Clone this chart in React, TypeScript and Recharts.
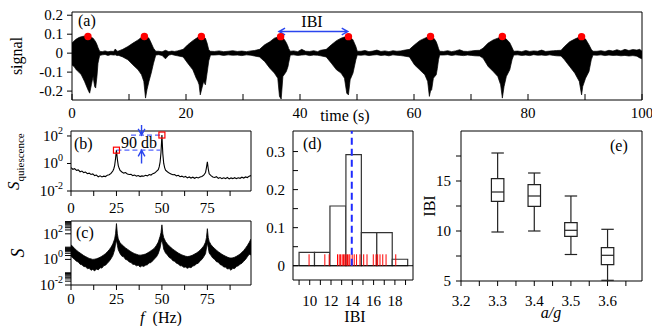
import React from "react";
import {
  Area,
  ComposedChart,
  Line,
  ReferenceArea,
  ReferenceLine,
  Scatter,
  XAxis,
  YAxis,
} from "recharts";

const FONT = "'Liberation Serif', 'Times New Roman', serif";
const INK = "#000";
const RED = "#ff0000";
const BLUE = "#2a45ee";
const LIGHT_BLUE = "#5566ff";

// ---- (a) signal envelope ----
const sigT = [
  0, 0.4, 0.75, 1.2, 1.63, 2.2, 2.8, 3.1, 3.4, 3.7, 3.97, 4.15, 4.38, 4.56, 4.85,
  5.3, 5.8, 6.3, 6.8, 7.3, 7.6, 7.9, 8.2,
  8.9, 9.8, 10.7, 11.6, 12.2, 12.6, 12.9, 13.15, 13.5, 13.9, 14.3, 14.7,
  15.2, 15.8, 16.4, 17.0, 17.5, 18.0, 18.5,
  19.5, 20.3, 21.2, 21.8, 22.1, 22.3, 22.5, 22.8, 23.1, 23.4, 23.7, 24.0, 24.3,
  25, 25.8, 26.6, 27.4, 28.2, 29, 29.8, 30.6, 31.4, 32,
  32.9, 33.8, 34.7, 35.5, 36.1, 36.4, 36.7, 37.0, 37.3, 37.6, 37.9, 38.0, 38.3,
  38.9, 39.6, 40.3, 41, 41.7, 42.4, 43.1, 43.6,
  44.6, 45.5, 46.4, 47.2, 47.8, 48.2, 48.5, 48.8, 49.3, 49.8, 50.05,
  50.7, 51.4, 52.1, 52.8, 53.5, 54.2, 54.9, 55.6, 56.3, 57, 57.7, 58.2,
  59.2, 60.1, 61.0, 61.9, 62.4, 62.7, 62.9, 63.1, 63.4, 63.6, 63.9, 64.1, 64.3, 64.5,
  65.2, 65.9, 66.6, 67.3, 68, 68.7, 69.4, 70.1, 70.7,
  71.5, 72.1, 73.0, 73.9, 74.7, 75.2, 75.5, 75.8, 76.2, 76.8, 77.2, 77.5,
  78.2, 78.9, 79.6, 80.3, 81, 81.7, 82.4, 83.1, 83.8, 84.5, 85,
  85.8, 86.4, 87.3, 88.2, 89.0, 89.4, 89.6, 90.1, 90.7, 91.1, 91.4,
  92.1, 92.8, 93.5, 94.2, 94.9, 95.6, 96.3, 97, 97.7, 98.4, 99.1, 99.6, 100,
];
const sigHi = [
  0.053, 0.066, 0.074, 0.082, 0.087, 0.09, 0.092, 0.088, 0.083, 0.079, 0.068, 0.06, 0.045, 0.03, 0.01,
  0.008, 0.012, 0.007, 0.01, 0.009, 0.022, 0.01, 0.012,
  0.02, 0.035, 0.053, 0.07, 0.084, 0.09, 0.09, 0.085, 0.079, 0.053, 0.026, 0.01,
  0.01, 0.007, 0.015, 0.008, 0.011, 0.009, 0.012,
  0.02, 0.044, 0.066, 0.078, 0.084, 0.088, 0.09, 0.09, 0.085, 0.079, 0.053, 0.017, 0.01,
  0.009, 0.012, 0.008, 0.01, 0.013, 0.009, 0.011, 0.008, 0.012, 0.014,
  0.02, 0.044, 0.06, 0.079, 0.085, 0.088, 0.09, 0.082, 0.07, 0.055, 0.035, 0.025, 0.01,
  0.012, 0.008, 0.02, 0.01, 0.009, 0.013, 0.008, 0.015,
  0.02, 0.044, 0.066, 0.079, 0.085, 0.088, 0.09, 0.085, 0.07, 0.035, 0.01,
  0.01, 0.014, 0.008, 0.011, 0.016, 0.009, 0.012, 0.008, 0.013, 0.01, 0.012, 0.015,
  0.02, 0.044, 0.066, 0.079, 0.085, 0.088, 0.09, 0.088, 0.08, 0.074, 0.06, 0.044, 0.025, 0.01,
  0.009, 0.013, 0.008, 0.012, 0.018, 0.01, 0.009, 0.012, 0.014,
  0.015, 0.026, 0.053, 0.07, 0.079, 0.086, 0.09, 0.085, 0.074, 0.055, 0.03, 0.01,
  0.011, 0.008, 0.014, 0.009, 0.012, 0.01, 0.016, 0.009, 0.011, 0.013, 0.014,
  0.015, 0.035, 0.06, 0.074, 0.085, 0.09, 0.088, 0.074, 0.044, 0.02, 0.01,
  0.01, 0.013, 0.009, 0.015, 0.011, 0.018, 0.012, 0.02, 0.014, 0.019, 0.016, 0.02, 0.01,
];
const sigLo = [
  -0.062, -0.072, -0.088, -0.1, -0.114, -0.149, -0.193, -0.211, -0.167, -0.123, -0.176, -0.184, -0.123, -0.053, -0.012,
  -0.009, -0.007, -0.012, -0.008, -0.01, -0.009, -0.013, -0.012,
  -0.02, -0.035, -0.062, -0.088, -0.114, -0.149, -0.237, -0.193, -0.149, -0.105, -0.053, -0.01,
  -0.008, -0.012, -0.03, -0.01, -0.007, -0.011, -0.014,
  -0.02, -0.053, -0.088, -0.132, -0.15, -0.167, -0.22, -0.184, -0.149, -0.167, -0.105, -0.04, -0.01,
  -0.01, -0.008, -0.012, -0.009, -0.011, -0.01, -0.013, -0.009, -0.011, -0.015,
  -0.02, -0.044, -0.079, -0.105, -0.132, -0.228, -0.242, -0.123, -0.11, -0.097, -0.07, -0.053, -0.01,
  -0.009, -0.012, -0.01, -0.008, -0.013, -0.01, -0.011, -0.014,
  -0.02, -0.053, -0.088, -0.105, -0.132, -0.211, -0.22, -0.14, -0.105, -0.035, -0.01,
  -0.011, -0.009, -0.013, -0.01, -0.008, -0.012, -0.01, -0.014, -0.009, -0.011, -0.013, -0.015,
  -0.02, -0.062, -0.088, -0.114, -0.149, -0.228, -0.2, -0.193, -0.132, -0.125, -0.114, -0.08, -0.035, -0.01,
  -0.01, -0.008, -0.012, -0.009, -0.011, -0.013, -0.01, -0.012, -0.014,
  -0.015, -0.026, -0.07, -0.097, -0.123, -0.167, -0.237, -0.176, -0.123, -0.088, -0.035, -0.01,
  -0.009, -0.012, -0.01, -0.013, -0.008, -0.011, -0.01, -0.012, -0.009, -0.012, -0.014,
  -0.015, -0.035, -0.07, -0.105, -0.149, -0.22, -0.176, -0.132, -0.097, -0.035, -0.01,
  -0.011, -0.009, -0.013, -0.01, -0.012, -0.011, -0.014, -0.012, -0.015, -0.013, -0.016, -0.025, -0.03,
];
const peakT = [2.8, 12.7, 22.7, 36.6, 48.5, 62.9, 75.5, 89.4];
const peakV = [0.088, 0.088, 0.088, 0.087, 0.087, 0.088, 0.088, 0.087];
const ibiSpan = [36.3, 48.4];
const ibiLevel = 0.114;

// ---- (b) quiescence spectrum: [f, log10 S] ----
const bSpectrum = [
  [0, -0.3], [1, -0.42], [2, -0.38], [3, -0.5], [4, -0.47], [5, -0.6], [6, -0.55], [7, -0.66],
  [8, -0.62], [9, -0.74], [10, -0.7], [11, -0.8], [12, -0.76], [13, -0.88], [14, -0.84], [15, -0.97],
  [16, -0.9], [17, -0.98], [18, -0.92], [19, -0.95], [20, -0.85], [21, -0.82], [22, -0.72], [23, -0.55],
  [23.5, -0.4], [24, -0.15], [24.5, 0.35], [25, 0.97], [25.5, 0.3], [26, -0.15], [26.5, -0.35], [27, -0.5],
  [28, -0.62], [29, -0.7], [30, -0.66], [31, -0.76], [32, -0.8], [33, -0.78], [34, -0.88], [35, -0.84],
  [36, -0.92], [37, -0.88], [38, -0.95], [39, -0.9], [40, -0.93], [41, -0.86], [42, -0.9], [43, -0.8],
  [44, -0.84], [45, -0.74], [46, -0.7], [47, -0.58], [48, -0.45], [48.5, -0.25], [49, 0.1], [49.5, 0.8],
  [50, 2.07], [50.5, 0.7], [51, 0.0], [51.5, -0.3], [52, -0.48], [53, -0.6], [54, -0.7], [55, -0.76],
  [56, -0.82], [57, -0.8], [58, -0.9], [59, -0.86], [60, -0.96], [61, -0.92], [62, -1.0], [63, -0.94],
  [64, -1.05], [65, -0.98], [66, -1.06], [67, -1.0], [68, -1.08], [69, -1.0], [70, -1.05], [71, -0.98],
  [72, -0.95], [73, -0.85], [74, -0.65], [74.5, -0.3], [75, 0.12], [75.5, -0.4], [76, -0.75], [77, -0.88],
  [78, -0.98], [79, -1.02], [80, -0.96], [81, -1.08], [82, -1.02], [83, -1.1], [84, -1.04], [85, -1.1],
  [86, -1.02], [87, -1.12], [88, -1.05], [89, -1.1], [90, -1.03], [91, -1.1], [92, -1.04], [93, -1.08],
  [94, -1.0], [95, -1.06], [96, -0.98], [97, -1.02], [98, -0.92], [99, -0.88],
];
const markF = [25, 50];
const markS = [9.3, 117];
const dashLow = [25, 49];
const dashHigh = [33, 49];
const dbArrowF = 38.8;
const dbArrowTail = [630, 1.0];

// ---- (c) full spectrum band: [f, log10 upper, log10 lower] ----
const cSpectrum = [
  [0, 1.15, 0.25], [1, 1.0, 0.1], [2, 0.85, 0.0], [3, 0.72, -0.15], [4, 0.6, -0.2], [5, 0.5, -0.38],
  [6, 0.4, -0.42], [7, 0.3, -0.55], [8, 0.22, -0.58], [9, 0.15, -0.72], [10, 0.08, -0.7], [11, 0.04, -0.85],
  [12, 0.0, -0.78], [13, 0.02, -0.9], [14, 0.05, -0.75], [15, 0.1, -0.82], [16, 0.17, -0.65], [17, 0.25, -0.68],
  [18, 0.35, -0.5], [19, 0.45, -0.45], [20, 0.6, -0.3], [21, 0.75, -0.15], [22, 0.95, 0.05], [23, 1.2, 0.3],
  [24, 1.6, 0.75], [24.5, 2.0, 1.2], [25, 2.8, 1.5], [25.5, 2.0, 1.1], [26, 1.6, 0.75], [27, 1.3, 0.45],
  [28, 1.15, 0.25], [29, 1.02, 0.2], [30, 0.9, 0.0], [31, 0.8, -0.05], [32, 0.7, -0.2], [33, 0.6, -0.25],
  [34, 0.52, -0.38], [35, 0.45, -0.4], [36, 0.4, -0.5], [37, 0.35, -0.45], [38, 0.33, -0.6], [39, 0.35, -0.5],
  [40, 0.38, -0.55], [41, 0.42, -0.45], [42, 0.5, -0.42], [43, 0.58, -0.28], [44, 0.68, -0.25], [45, 0.78, -0.1],
  [46, 0.9, 0.05], [47, 1.1, 0.2], [48, 1.35, 0.45], [49, 1.8, 0.9], [49.5, 2.1, 1.3], [50, 2.7, 1.5],
  [50.5, 2.0, 1.2], [51, 1.7, 0.8], [52, 1.4, 0.5], [53, 1.2, 0.35], [54, 1.05, 0.15], [55, 0.92, 0.08],
  [56, 0.8, -0.1], [57, 0.7, -0.15], [58, 0.6, -0.3], [59, 0.5, -0.35], [60, 0.42, -0.5], [61, 0.35, -0.5],
  [62, 0.3, -0.62], [63, 0.25, -0.6], [64, 0.22, -0.7], [65, 0.24, -0.62], [66, 0.28, -0.65], [67, 0.34, -0.52],
  [68, 0.42, -0.48], [69, 0.5, -0.35], [70, 0.6, -0.3], [71, 0.72, -0.12], [72, 0.88, 0.0], [73, 1.05, 0.2],
  [74, 1.35, 0.45], [74.5, 1.7, 0.9], [75, 2.4, 1.3], [75.5, 1.7, 0.9], [76, 1.4, 0.5], [77, 1.15, 0.3],
  [78, 0.98, 0.1], [79, 0.85, 0.0], [80, 0.72, -0.18], [81, 0.6, -0.22], [82, 0.5, -0.4], [83, 0.4, -0.45],
  [84, 0.32, -0.6], [85, 0.25, -0.6], [86, 0.18, -0.75], [87, 0.12, -0.72], [88, 0.1, -0.85], [89, 0.12, -0.7],
  [90, 0.17, -0.72], [91, 0.24, -0.55], [92, 0.33, -0.5], [93, 0.42, -0.38], [94, 0.55, -0.3], [95, 0.7, -0.15],
  [96, 0.88, 0.0], [97, 1.08, 0.2], [98, 1.32, 0.4], [99, 1.6, 0.35],
];

// ---- (d) IBI histogram ----
const histEdges = [9.0, 10.45, 11.9, 13.4, 14.85, 16.3, 17.75, 19.2];
const histDensity = [0.035, 0.035, 0.157, 0.292, 0.087, 0.087, 0.017];
const rugIBI = [
  9.94, 11.42, 11.83, 12.61, 12.77, 12.9, 13.05, 13.18, 13.3, 13.42, 13.55, 13.68, 13.77,
  13.99, 14.18, 14.4, 14.72, 15.07, 15.38, 15.97, 16.23, 16.38, 16.6, 16.86, 17.17, 18.08,
];
const rugHeight = 0.03;
const meanIBI = 13.95;

// ---- (e) IBI vs a/g box plots ----
const agRatio = [3.3, 3.4, 3.5, 3.6];
const whiskLo = [9.9, 10.0, 7.65, 5.07];
const q1 = [12.97, 12.47, 9.47, 6.64];
const med = [13.9, 13.5, 10.07, 7.57];
const q3 = [15.24, 14.64, 10.84, 8.34];
const whiskHi = [17.8, 15.8, 13.5, 10.17];
const BOX_HALF = 0.017;

// ---- ticks ----
const aTicksX = [0, 10, 20, 30, 40, 50, 60, 70, 80, 90, 100];
const aTicksY = [-0.2, -0.1, 0, 0.1, 0.2];
const fTicks = [0, 12.5, 25, 37.5, 50, 62.5, 75, 87.5];
const bTicksY = [0.01, 1, 100];
const cTicksY = [
  0.01, 0.02, 0.03, 0.04, 0.05, 0.06, 0.07, 0.08, 0.09,
  1, 2, 3, 4, 5, 6, 7, 8, 9,
  100, 200, 300, 400, 500, 600, 700, 800, 900,
];
const dTicksX = [9, 10, 11, 12, 13, 14, 15, 16, 17, 18, 19];
const dTicksY = [0, 0.05, 0.1, 0.15, 0.2, 0.25, 0.3];
const eTicksX = [3.2, 3.25, 3.3, 3.35, 3.4, 3.45, 3.5, 3.55, 3.6, 3.65];
const eTicksY = [5, 7.5, 10, 12.5, 15, 17.5];

// plot boxes in page pixels
const BOX_A = { x0: 72, y0: 12, x1: 642, y1: 100 };
const BOX_B = { x0: 71, y0: 131, x1: 251, y1: 191 };
const BOX_C = { x0: 71, y0: 221, x1: 251, y1: 285 };
const BOX_D = { x0: 293, y0: 131, x1: 413, y1: 280 };
const BOX_E = { x0: 461, y0: 131, x1: 642, y1: 281 };

const PAD = 12;
const YW = 60;
const XH = 30;

function frame(b: { x0: number; y0: number; x1: number; y1: number }) {
  return {
    style: { position: "absolute" as const, left: b.x0 - YW - PAD, top: b.y0 - PAD },
    width: b.x1 - b.x0 + YW + 2 * PAD,
    height: b.y1 - b.y0 + XH + 2 * PAD,
    margin: { top: PAD, right: PAD, bottom: PAD, left: PAD },
  };
}

function textTick(opts: {
  dx?: number;
  dy?: number;
  anchor: "start" | "middle" | "end";
  label: (v: number) => string | null;
}) {
  return (props: any) => {
    const { x, y, payload } = props;
    const s = opts.label(payload.value);
    if (s == null) return <g />;
    return (
      <text
        x={x + (opts.dx ?? 0)}
        y={y + (opts.dy ?? 0)}
        textAnchor={opts.anchor}
        fontFamily={FONT}
        fontSize={15}
        fill={INK}
      >
        {s}
      </text>
    );
  };
}

function LogTick(props: any) {
  const { x, y, payload } = props;
  const lg = Math.log10(payload.value);
  const e = Math.round(lg);
  if (Math.abs(lg - e) > 1e-6 || e % 2 !== 0) return <g />;
  return (
    <text x={x} y={y + 5} textAnchor="end" fontFamily={FONT} fontSize={15} fill={INK}>
      10
      <tspan dy={-7} fontSize={10}>
        {e}
      </tspan>
    </text>
  );
}

function arrowShape(both: boolean) {
  return (p: any) => {
    const { x1, y1, x2, y2, stroke } = p;
    const a = Math.atan2(y2 - y1, x2 - x1);
    const head = (x: number, y: number, ang: number) => {
      const L = 7;
      const w = 0.5;
      return `M${x - L * Math.cos(ang - w)},${y - L * Math.sin(ang - w)}L${x},${y}L${
        x - L * Math.cos(ang + w)
      },${y - L * Math.sin(ang + w)}`;
    };
    let d = `M${x1},${y1}L${x2},${y2}` + head(x2, y2, a);
    if (both) d += head(x1, y1, a + Math.PI);
    return <path d={d} fill="none" stroke={stroke} strokeWidth={1.4} />;
  };
}

const sigTable = sigT.map((t, i) => ({ t, band: [sigLo[i], sigHi[i]] }));
const peakTable = peakT.map((t, i) => ({ t, v: peakV[i] }));
const bTable = bSpectrum.map(([f, e]) => ({ f, s: 10 ** e }));
const markTable = markF.map((f, i) => ({ f, s: markS[i] }));
const cTable = cSpectrum.map(([f, hi, lo]) => ({ f, band: [10 ** lo, 10 ** hi] }));
const rugTable = rugIBI.map((x) => ({ x, y: 0 }));
const eTable = agRatio.map((x, i) => ({ x, y: med[i] }));

const axisCommon = { stroke: INK, axisLine: false, interval: 0 as const, allowDataOverflow: true };

export default function App() {
  const fa = frame(BOX_A);
  const fb = frame(BOX_B);
  const fc = frame(BOX_C);
  const fd = frame(BOX_D);
  const fe = frame(BOX_E);

  return (
    <div
      style={{
        position: "absolute",
        left: 0,
        top: 0,
        width: 652,
        height: 326,
        background: "#fff",
        overflow: "hidden",
      }}
    >
      {/* (a) signal */}
      <div style={fa.style}>
        <ComposedChart width={fa.width} height={fa.height} margin={fa.margin} data={sigTable}>
          <XAxis
            {...axisCommon}
            dataKey="t"
            type="number"
            domain={[0, 100]}
            ticks={aTicksX}
            tickSize={-6}
            tickMargin={6}
            height={XH}
            tick={textTick({ anchor: "middle", dy: 18, label: (v) => (v % 20 === 0 ? String(v) : null) })}
          />
          <YAxis
            {...axisCommon}
            type="number"
            domain={[-0.247, 0.217]}
            ticks={aTicksY}
            tickSize={5}
            tickMargin={4}
            width={YW}
            tick={textTick({ anchor: "end", dy: 5, label: (v) => (v === 0 ? "0" : v.toFixed(1)) })}
          />
          <Area
            dataKey="band"
            type="linear"
            stroke={INK}
            strokeWidth={0.7}
            fill={INK}
            fillOpacity={1}
            dot={false}
            activeDot={false}
            isAnimationActive={false}
          />
          <Scatter
            data={peakTable}
            dataKey="v"
            isAnimationActive={false}
            shape={(p: any) => <circle cx={p.cx} cy={p.cy} r={3.7} fill={RED} />}
          />
          <ReferenceLine
            segment={[
              { x: ibiSpan[0], y: ibiLevel },
              { x: ibiSpan[1], y: ibiLevel },
            ]}
            stroke={BLUE}
            ifOverflow="visible"
            shape={arrowShape(true)}
          />
          <ReferenceArea x1={0} x2={100} y1={-0.247} y2={0.217} fill="none" stroke={INK} ifOverflow="visible" />
        </ComposedChart>
      </div>

      {/* (b) quiescence spectrum */}
      <div style={fb.style}>
        <ComposedChart width={fb.width} height={fb.height} margin={fb.margin} data={bTable}>
          <XAxis
            {...axisCommon}
            dataKey="f"
            type="number"
            domain={[0, 99]}
            ticks={fTicks}
            tickSize={5}
            tickMargin={2}
            height={XH}
            tick={textTick({ anchor: "middle", dy: 15, label: (v) => (v % 25 === 0 ? String(v) : null) })}
          />
          <YAxis
            {...axisCommon}
            type="number"
            scale="log"
            domain={[0.01, 230]}
            ticks={bTicksY}
            tickSize={4}
            tickMargin={4}
            width={YW}
            tick={<LogTick />}
          />
          <Line
            dataKey="s"
            type="linear"
            stroke={INK}
            strokeWidth={1.1}
            dot={false}
            activeDot={false}
            isAnimationActive={false}
          />
          <ReferenceLine
            segment={[
              { x: dashLow[0], y: markS[0] },
              { x: dashLow[1], y: markS[0] },
            ]}
            stroke={LIGHT_BLUE}
            strokeWidth={1.3}
            strokeDasharray="5 3"
          />
          <ReferenceLine
            segment={[
              { x: dashHigh[0], y: markS[1] },
              { x: dashHigh[1], y: markS[1] },
            ]}
            stroke={LIGHT_BLUE}
            strokeWidth={1.3}
            strokeDasharray="5 3"
          />
          <ReferenceLine
            segment={[
              { x: dbArrowF, y: dbArrowTail[0] },
              { x: dbArrowF, y: markS[1] },
            ]}
            stroke={BLUE}
            ifOverflow="visible"
            shape={arrowShape(false)}
          />
          <ReferenceLine
            segment={[
              { x: dbArrowF, y: dbArrowTail[1] },
              { x: dbArrowF, y: markS[0] },
            ]}
            stroke={BLUE}
            ifOverflow="visible"
            shape={arrowShape(false)}
          />
          <Scatter
            data={markTable}
            dataKey="s"
            isAnimationActive={false}
            shape={(p: any) => (
              <rect x={p.cx - 3} y={p.cy - 3} width={6} height={6} fill="none" stroke={RED} strokeWidth={1.2} />
            )}
          />
          <ReferenceArea x1={0} x2={99} y1={0.01} y2={230} fill="none" stroke={INK} ifOverflow="visible" />
        </ComposedChart>
      </div>

      {/* (c) full spectrum */}
      <div style={fc.style}>
        <ComposedChart width={fc.width} height={fc.height} margin={fc.margin} data={cTable}>
          <XAxis
            {...axisCommon}
            dataKey="f"
            type="number"
            domain={[0, 99]}
            ticks={fTicks}
            tickSize={5}
            tickMargin={2}
            height={XH}
            tick={textTick({ anchor: "middle", dy: 12, label: (v) => (v % 25 === 0 ? String(v) : null) })}
          />
          <YAxis
            {...axisCommon}
            type="number"
            scale="log"
            domain={[0.01, 1000]}
            ticks={cTicksY}
            tickSize={6}
            tickMargin={2}
            width={YW}
            tick={<LogTick />}
          />
          <Area
            dataKey="band"
            type="linear"
            stroke={INK}
            strokeWidth={0.8}
            fill={INK}
            fillOpacity={1}
            dot={false}
            activeDot={false}
            isAnimationActive={false}
          />
          <ReferenceArea x1={0} x2={99} y1={0.01} y2={1000} fill="none" stroke={INK} ifOverflow="visible" />
        </ComposedChart>
      </div>

      {/* (d) IBI histogram */}
      <div style={fd.style}>
        <ComposedChart width={fd.width} height={fd.height} margin={fd.margin} data={rugTable}>
          <XAxis
            {...axisCommon}
            dataKey="x"
            type="number"
            domain={[8.43, 19.7]}
            ticks={dTicksX}
            tickSize={5}
            tickMargin={2}
            height={XH}
            tick={textTick({ anchor: "middle", dy: 19, label: (v) => (v % 2 === 0 ? String(v) : null) })}
          />
          <YAxis
            {...axisCommon}
            type="number"
            domain={[-0.0375, 0.354]}
            ticks={dTicksY}
            tickSize={-5}
            tickMargin={13}
            width={YW}
            tick={textTick({
              anchor: "end",
              dy: 5,
              label: (v) => (Math.round(v * 100) % 10 === 0 ? (v === 0 ? "0" : v.toFixed(1)) : null),
            })}
          />
          {histDensity.map((h, i) => (
            <ReferenceArea
              key={`bin-${i}`}
              x1={histEdges[i]}
              x2={histEdges[i + 1]}
              y1={0}
              y2={h}
              fill="#fff"
              fillOpacity={1}
              stroke="#333"
              strokeWidth={1.2}
              ifOverflow="visible"
            />
          ))}
          <ReferenceLine y={0} stroke={INK} strokeWidth={1} />
          {rugIBI.map((v, i) => (
            <ReferenceLine
              key={`rug-${i}`}
              segment={[
                { x: v, y: 0 },
                { x: v, y: rugHeight },
              ]}
              stroke={RED}
              strokeWidth={1}
            />
          ))}
          <ReferenceLine
            segment={[
              { x: meanIBI, y: 0 },
              { x: meanIBI, y: 0.354 },
            ]}
            stroke="#1e2bff"
            strokeWidth={2}
            strokeDasharray="7 4"
          />
          <ReferenceArea x1={8.43} x2={19.7} y1={-0.0375} y2={0.354} fill="none" stroke={INK} ifOverflow="visible" />
        </ComposedChart>
      </div>

      {/* (e) box plots */}
      <div style={fe.style}>
        <ComposedChart width={fe.width} height={fe.height} margin={fe.margin} data={eTable}>
          <XAxis
            {...axisCommon}
            dataKey="x"
            type="number"
            domain={[3.2, 3.694]}
            ticks={eTicksX}
            tickSize={5}
            tickMargin={2}
            height={XH}
            tick={textTick({
              anchor: "middle",
              dy: 18,
              label: (v) => (Math.round(v * 100) % 10 === 0 ? v.toFixed(1) : null),
            })}
          />
          <YAxis
            {...axisCommon}
            type="number"
            domain={[5, 20]}
            ticks={eTicksY}
            tickSize={5}
            tickMargin={5}
            width={YW}
            tick={textTick({ anchor: "end", dy: 5, label: (v) => (v % 5 === 0 ? String(v) : null) })}
          />
          {agRatio.map((x, i) => (
            <React.Fragment key={`box-${i}`}>
              <ReferenceLine segment={[{ x, y: whiskLo[i] }, { x, y: q1[i] }]} stroke="#222" strokeWidth={1.2} />
              <ReferenceLine segment={[{ x, y: q3[i] }, { x, y: whiskHi[i] }]} stroke="#222" strokeWidth={1.2} />
              <ReferenceLine
                segment={[{ x: x - BOX_HALF, y: whiskLo[i] }, { x: x + BOX_HALF, y: whiskLo[i] }]}
                stroke="#222"
                strokeWidth={1.2}
              />
              <ReferenceLine
                segment={[{ x: x - BOX_HALF, y: whiskHi[i] }, { x: x + BOX_HALF, y: whiskHi[i] }]}
                stroke="#222"
                strokeWidth={1.2}
              />
              <ReferenceArea
                x1={x - BOX_HALF}
                x2={x + BOX_HALF}
                y1={q1[i]}
                y2={q3[i]}
                fill="#fff"
                fillOpacity={1}
                stroke="#222"
                strokeWidth={1.2}
              />
              <ReferenceLine
                segment={[{ x: x - BOX_HALF, y: med[i] }, { x: x + BOX_HALF, y: med[i] }]}
                stroke="#222"
                strokeWidth={1.2}
              />
            </React.Fragment>
          ))}
          <ReferenceArea x1={3.2} x2={3.694} y1={5} y2={20} fill="none" stroke={INK} ifOverflow="visible" />
        </ComposedChart>
      </div>

      {/* labels */}
      <svg
        width={652}
        height={326}
        style={{ position: "absolute", left: 0, top: 0, pointerEvents: "none" }}
        fontFamily={FONT}
        fill={INK}
      >
        <text x={22} y={56} transform="rotate(-90 22 56)" textAnchor="middle" fontSize={16}>
          signal
        </text>
        <text x={345} y={121} textAnchor="middle" fontSize={16}>
          time (s)
        </text>
        <text x={78} y={26} fontSize={16}>
          (a)
        </text>
        <text x={312} y={27} textAnchor="middle" fontSize={16}>
          IBI
        </text>
        <text x={74} y={149} fontSize={16}>
          (b)
        </text>
        <text x={139} y={148} textAnchor="middle" fontSize={16}>
          90 db
        </text>
        <text x={76} y={238} fontSize={16}>
          (c)
        </text>
        <text x={19} y={190} transform="rotate(-90 19 190)" fontSize={17}>
          <tspan fontStyle="italic">S</tspan>
          <tspan dy={5} fontSize={11}>
            quiescence
          </tspan>
        </text>
        <text x={24} y={253} transform="rotate(-90 24 253)" textAnchor="middle" fontSize={18} fontStyle="italic">
          S
        </text>
        <text x={161} y={323} textAnchor="middle" fontSize={16}>
          <tspan fontStyle="italic">f</tspan>
          {" \u00a0(Hz)"}
        </text>
        <text x={303} y={149} fontSize={16}>
          (d)
        </text>
        <text x={355} y={322} textAnchor="middle" fontSize={16}>
          IBI
        </text>
        <text x={610} y={151} fontSize={16}>
          (e)
        </text>
        <text x={435} y={206} transform="rotate(-90 435 206)" textAnchor="middle" fontSize={16}>
          IBI
        </text>
        <text x={551} y={318} textAnchor="middle" fontSize={16} fontStyle="italic">
          a/g
        </text>
      </svg>
    </div>
  );
}
